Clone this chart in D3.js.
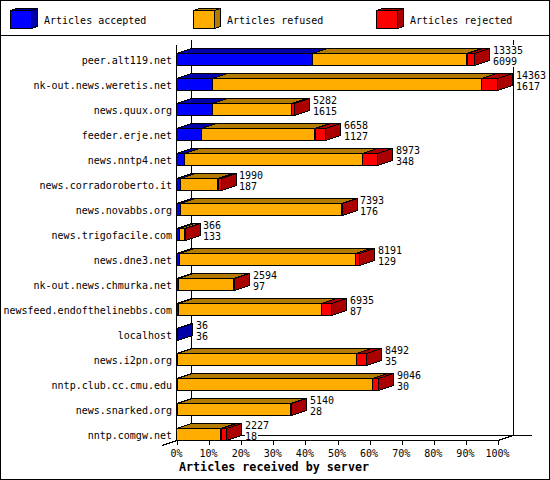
<!DOCTYPE html>
<html>
<head>
<meta charset="utf-8">
<script src="https://cdn.jsdelivr.net/npm/d3@7"></script>
<style>
body { margin: 0; background: #fff; }
svg { display: block; }
text { font-family: "DejaVu Sans Mono", monospace; font-size: 10px; fill: #000; }
.shape { shape-rendering: crispEdges; }
</style>
</head>
<body>
<svg id="chart" width="550" height="480"></svg>
<script>
const servers = ["peer.alt119.net", "nk-out.news.weretis.net", "news.quux.org", "feeder.erje.net",
    "news.nntp4.net", "news.corradoroberto.it", "news.novabbs.org", "news.trigofacile.com",
    "news.dne3.net", "nk-out.news.chmurka.net", "newsfeed.endofthelinebbs.com", "localhost",
    "news.i2pn.org", "nntp.club.cc.cmu.edu", "news.snarked.org", "nntp.comgw.net"];
const totals = [13335, 14363, 5282, 6658, 8973, 1990, 7393, 366, 8191, 2594, 6935, 36, 8492, 9046, 5140, 2227];
const accepted = [6099, 1617, 1615, 1127, 348, 187, 176, 133, 129, 97, 87, 36, 35, 30, 28, 18];
const refused = [6906, 12016, 3537, 5071, 7975, 1673, 7187, 213, 7892, 2472, 6408, 0, 8007, 8746, 5082, 1989];
const rejected = [330, 730, 130, 460, 650, 130, 30, 20, 170, 25, 440, 0, 450, 270, 30, 220];
const seriesNames = ["Articles accepted", "Articles refused", "Articles rejected"];
const percentTicks = [0, 10, 20, 30, 40, 50, 60, 70, 80, 90, 100];

const colors = ["#0000ff", "#ffad00", "#ff0000"];
const darkColors = ["#0000aa", "#b37b00", "#aa0000"];

const dx = 15, dy = 5;
const barH = 12;
const plotLeft = 177, plotRight = 498, plotBottom = 440;

const svg = d3.select("#chart");

// frame
const frame = svg.append("g").attr("class", "shape").attr("fill", "none").attr("stroke", "#000");
frame.append("rect").attr("x", 0.5).attr("y", 0.5).attr("width", 549).attr("height", 479).attr("fill", "#fff");
frame.append("line").attr("x1", 0).attr("x2", 550).attr("y1", 35.5).attr("y2", 35.5);

// legend
const legendX = d3.scaleOrdinal().domain(seriesNames).range([10.5, 193.5, 376.5]);
function box(g, x, y, w, h, ddx, ddy, i, withSide) {
    g.append("polygon")
        .attr("points", [[x, y], [x + ddx, y - ddy], [x + w + ddx, y - ddy], [x + w, y]].join(" "))
        .attr("fill", darkColors[i]).attr("stroke", "#000");
    if (withSide) {
        g.append("polygon")
            .attr("points", [[x + w, y], [x + w + ddx, y - ddy], [x + w + ddx, y + h - ddy], [x + w, y + h]].join(" "))
            .attr("fill", darkColors[i]).attr("stroke", "#000");
    }
    g.append("rect")
        .attr("x", x).attr("y", y).attr("width", w).attr("height", h)
        .attr("fill", colors[i]).attr("stroke", "#000");
}
const legend = svg.append("g");
seriesNames.forEach((name, i) => {
    box(legend.append("g").attr("class", "shape"), legendX(name), 10.5, 21, 18, 6, 2, i, true);
    legend.append("text").attr("x", legendX(name) + 33.5).attr("y", 24).text(name);
});

// scales
const x = d3.scaleLinear().domain([0, d3.max(totals)]).range([plotLeft, plotRight]);
const xPct = d3.scaleLinear().domain([0, 100]).range([plotLeft, plotRight]);
const y = d3.scalePoint().domain(servers).range([59, 434]);

// back walls
const walls = svg.append("g").attr("class", "shape").attr("stroke", "#000");
walls.append("line").attr("x1", plotLeft + dx - 0.5).attr("x2", plotLeft + dx - 0.5).attr("y1", 40).attr("y2", plotBottom - dy);
walls.append("line").attr("x1", plotRight + dx + 0.5).attr("x2", plotRight + dx + 0.5).attr("y1", 40).attr("y2", plotBottom - dy);
walls.append("line").attr("x1", plotLeft + dx).attr("x2", 532).attr("y1", plotBottom - dy + 0.5).attr("y2", plotBottom - dy + 0.5);
walls.append("line").attr("x1", plotLeft - 15).attr("x2", plotLeft).attr("y1", plotBottom + 5.5).attr("y2", plotBottom + 0.5);
walls.append("line").attr("x1", plotRight).attr("x2", plotRight + dx).attr("y1", plotBottom + 0.5).attr("y2", plotBottom - dy + 0.5);

// bars
const rows = servers.map((s, i) => ({ server: s, total: totals[i], accepted: accepted[i], refused: refused[i], rejected: rejected[i] }));
const stacked = d3.stack().keys(["accepted", "refused", "rejected"])(rows);

const bars = svg.append("g");
rows.forEach((row, r) => {
    const g = bars.append("g").attr("class", "shape");
    const top = Math.round(y(row.server) - barH / 2) + 0.5;
    const parts = stacked.map((layer, i) => ({ i: i, x0: x(layer[r][0]), x1: x(layer[r][1]) }))
        .filter(p => p.x1 > p.x0);
    parts.forEach((p, k) => {
        const px0 = Math.round(p.x0) + 0.5 - 1;
        const w = Math.max(Math.round(p.x1 - p.x0), 1);
        box(g, px0, top, w, barH, dx, dy, p.i, k === parts.length - 1);
    });
    // the two numbers sit on a white patch, they hide the wall lines
    const labelX = Math.round(x(row.total)) + dx + 3;
    const labels = bars.append("g");
    const chars = String(row.total).length;
    labels.append("rect").attr("class", "shape")
        .attr("x", labelX).attr("y", top - 9).attr("width", chars * 6 + 1).attr("height", 11).attr("fill", "#fff");
    labels.append("rect").attr("class", "shape")
        .attr("x", labelX).attr("y", top + 2).attr("width", String(row.accepted).length * 6 + 1).attr("height", 11).attr("fill", "#fff");
    labels.append("text").attr("x", labelX).attr("y", top + 0.5).text(row.total);
    labels.append("text").attr("x", labelX).attr("y", top + 11.5).text(row.accepted);
});

// axes
const yAxis = d3.axisLeft(y).tickSize(0).tickPadding(5);
svg.append("g").attr("transform", `translate(${plotLeft},0)`).call(yAxis)
    .call(g => g.select(".domain").remove())
    .selectAll("text").attr("dy", "0.4em");
svg.append("line").attr("class", "shape").attr("stroke", "#000")
    .attr("x1", plotLeft - 0.5).attr("x2", plotLeft - 0.5).attr("y1", 45).attr("y2", plotBottom);

const xAxis = d3.axisBottom(xPct).tickValues(percentTicks).tickFormat(d => d + "%").tickSize(5).tickPadding(5).tickSizeOuter(0);
const xg = svg.append("g").attr("transform", `translate(0,${plotBottom})`).call(xAxis);
xg.selectAll("line").attr("class", "shape");
xg.selectAll("text").attr("x", -1);
xg.select(".domain").attr("class", "domain shape");

svg.append("text").attr("x", 274).attr("y", 471).attr("text-anchor", "middle")
    .style("font-size", "11.7px").style("font-weight", "bold")
    .text("Articles received by server");
</script>
</body>
</html>
